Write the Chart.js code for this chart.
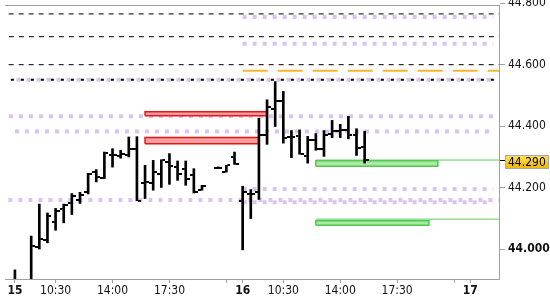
<!DOCTYPE html>
<html>
<head>
<meta charset="utf-8">
<script src="https://cdn.jsdelivr.net/npm/chart.js@4.4.1/dist/chart.umd.min.js"></script>
<style>
  html, body { margin: 0; padding: 0; background: #fff; }
</style>
</head>
<body>
<canvas id="chart" width="550" height="300"></canvas>
<script>
// 30 minute bars, x = hours since 08:00 on the 15th (14h session per day)
const barHours = [0, 1, 1.5, 2, 2.5, 3, 3.5, 4, 4.5, 5, 5.5, 6, 6.5, 7, 7.5, 8, 8.5, 9, 9.5, 10, 10.5, 11, 11.5, 12.5, 13, 13.5,
  14, 14.5, 15, 15.5, 16, 16.5, 17, 17.5, 18, 18.5, 19, 19.5, 20, 20.5, 21, 21.5]
const opens = [43.880, 43.890, 44.008, 44.030, 44.090, 44.130, 44.149, 44.160, 44.186, 44.250, 44.233, 44.307, 44.302, 44.305, 44.327,
  44.214, 44.216, 44.244, 44.284, 44.267, 44.262, 44.240, 44.194, 44.265, 44.251, 44.300,
  44.156, 44.181, 44.186, 44.370, 44.456, 44.483, 44.365, 44.367, 44.302, 44.356, 44.327, 44.376, 44.386, 44.389, 44.370, 44.334]
const highs = [43.933, 44.043, 44.147, 44.118, 44.133, 44.147, 44.181, 44.185, 44.247, 44.259, 44.316, 44.327, 44.322, 44.365, 44.366,
  44.273, 44.289, 44.291, 44.311, 44.287, 44.287, 44.262, 44.208, 44.268, 44.273, 44.316,
  44.205, 44.194, 44.426, 44.486, 44.545, 44.513, 44.386, 44.388, 44.367, 44.376, 44.386, 44.419, 44.406, 44.432, 44.392, 44.384]
const lows = [43.870, 43.880, 44.001, 44.021, 44.062, 44.086, 44.113, 44.149, 44.180, 44.219, 44.230, 44.267, 44.296, 44.300, 44.158,
  44.165, 44.192, 44.201, 44.211, 44.224, 44.208, 44.183, 44.192, 44.262, 44.251, 44.276,
  43.998, 44.100, 44.162, 44.341, 44.399, 44.345, 44.298, 44.309, 44.280, 44.322, 44.302, 44.363, 44.363, 44.359, 44.305, 44.280]
const closes = [43.890, 44.011, 44.033, 44.108, 44.125, 44.143, 44.174, 44.178, 44.246, 44.234, 44.312, 44.307, 44.311, 44.327, 44.158,
  44.220, 44.251, 44.289, 44.270, 44.246, 44.230, 44.186, 44.205, 44.265, 44.273, 44.276,
  44.186, 44.180, 44.372, 44.464, 44.483, 44.363, 44.365, 44.311, 44.356, 44.327, 44.373, 44.384, 44.389, 44.370, 44.330, 44.290]

// axis ticks
const xTickHours = [0, 2.5, 6, 9.5, 13, 14, 16.5, 20, 23.5, 27, 28]
const xTickLabels = ["15", "10:30", "14:00", "17:30", "", "16", "10:30", "14:00", "17:30", "", "17"]
const dayTicks = [0, 14, 28]
const yTickValues = [44.0, 44.2, 44.29, 44.4, 44.6, 44.8]
const lastPrice = 44.29

// level lines: value, from hour, to hour
const dashedLevels = [44.765, 44.691, 44.600]
const dashedFrom = [-1, -0.37, -1]
const dottedLevels = [44.551]
const dottedFrom = [-0.25]
const lilacLevels = [44.755, 44.668, 44.551, 44.432, 44.383, 44.196, 44.160, 44.153]
const lilacFrom = [14, 14, 0.1, -0.37, 0, 14, -0.4, 14]
const lilacTo = [29.4, 29.4, 29.4, 29.4, 29.4, 29.4, 31, 29.4]
const orangeLevels = [44.58]
const orangeFrom = [14]
const greenLevels = [44.29, 44.098]
const greenFrom = [18.5, 18.5]

// zones: from hour, to hour, low, high
const redZones = [[8.0, 15.5, 44.434, 44.447], [8.0, 15.0, 44.343, 44.363]]
const greenZones = [[18.5, 26.0, 44.270, 44.288], [18.5, 25.45, 44.078, 44.093]]

const X_MIN = -0.61
const X_MAX = 29.76
const FONT = "'DejaVu Sans Condensed', 'DejaVu Sans', sans-serif"

function tickImage(side) {
  const c = document.createElement("canvas")
  c.width = 8
  c.height = 2
  const g = c.getContext("2d")
  g.fillStyle = "#000"
  g.fillRect(side === "left" ? 0 : 5, 0, 3, 2)
  return c
}

function levelLine(value, from, to, style) {
  return Object.assign({
    type: "line",
    data: [{ x: from, y: value }, { x: to, y: value }],
    pointRadius: 0,
    fill: false,
    borderCapStyle: "butt"
  }, style)
}

function zone(z, fillColor, lineColor) {
  const [a, b, lo, hi] = z
  return {
    type: "line",
    data: [{ x: a, y: lo }, { x: b, y: lo }, { x: b, y: hi }, { x: a, y: hi }, { x: a, y: lo }],
    pointRadius: 0,
    fill: "shape",
    backgroundColor: fillColor,
    borderColor: lineColor,
    borderWidth: 1.5,
    order: 5
  }
}

const datasets = []

// OHLC: high-low stems, open ticks, close ticks
datasets.push({
  type: "bar",
  data: barHours.map((h, i) => ({ x: h, y: [lows[i], highs[i]] })),
  backgroundColor: "#000",
  borderWidth: 0,
  barThickness: 2,
  grouped: false,
  order: 1
})
datasets.push({
  type: "scatter",
  data: barHours.map((h, i) => ({ x: h, y: opens[i] })),
  pointStyle: tickImage("left"),
  pointRadius: 3,
  order: 0
})
datasets.push({
  type: "scatter",
  data: barHours.map((h, i) => ({ x: h, y: closes[i] })),
  pointStyle: tickImage("right"),
  pointRadius: 3,
  order: 0
})

lilacLevels.forEach((v, i) => datasets.push(levelLine(v, lilacFrom[i], lilacTo[i], {
  borderColor: "#dcc2f0", borderWidth: 4, borderDash: [4, 6], order: 9
})))
dashedLevels.forEach((v, i) => datasets.push(levelLine(v, dashedFrom[i], 31, {
  borderColor: "#000", borderWidth: 1, borderDash: [5, 5], order: 8
})))
dottedLevels.forEach((v, i) => datasets.push(levelLine(v, dottedFrom[i], 31, {
  borderColor: "#000", borderWidth: 2, borderDash: [3, 7], order: 8
})))
orangeLevels.forEach((v, i) => datasets.push(levelLine(v, orangeFrom[i], 31, {
  borderColor: "#f8b630", borderWidth: 2, borderDash: [25, 10], order: 8
})))
redZones.forEach(z => datasets.push(zone(z, "#f5a0a0", "#ee1111")))
greenZones.forEach(z => datasets.push(zone(z, "#aaeaa4", "#4cc84c")))
greenLevels.forEach((v, i) => datasets.push(levelLine(v, greenFrom[i], 31, {
  borderColor: "#5ccc5c", borderWidth: 1, order: 4
})))

// last price tag on the right axis
const priceTag = {
  id: "priceTag",
  afterDraw(chart) {
    const { ctx } = chart
    const y = chart.scales.y
    const py = Math.round(y.getPixelForValue(lastPrice))
    const x0 = y.left + 6.5
    const top = py - 4.5
    const w = 43
    const h = 13
    const grad = ctx.createLinearGradient(0, top, 0, top + h)
    grad.addColorStop(0, "#ffe35c")
    grad.addColorStop(1, "#f1b500")
    ctx.save()
    ctx.fillStyle = grad
    ctx.fillRect(x0, top, w, h)
    ctx.strokeStyle = "#a8a8a8"
    ctx.lineWidth = 1
    ctx.strokeRect(x0, top, w, h)
    ctx.fillStyle = "#000"
    ctx.font = "12px " + FONT
    ctx.textBaseline = "middle"
    ctx.textAlign = "left"
    ctx.fillText(lastPrice.toFixed(3), x0 + 2.5, top + h / 2 + 0.5)
    ctx.restore()
  }
}

new Chart(document.getElementById("chart"), {
  type: "bar",
  data: { datasets },
  options: {
    responsive: false,
    animation: false,
    events: [],
    layout: { padding: 0 },
    plugins: { legend: { display: false }, tooltip: { enabled: false } },
    scales: {
      x: {
        type: "linear",
        min: X_MIN,
        max: X_MAX,
        bounds: "data",
        offset: false,
        afterBuildTicks: s => { s.ticks = xTickHours.map(v => ({ value: v })) },
        afterFit: s => { s.height = 21; s.paddingLeft = 0; s.paddingRight = 0 },
        grid: { drawOnChartArea: false, offset: false, tickLength: 4, color: "#a0a0a0" },
        border: { color: "#a0a0a0" },
        ticks: {
          autoSkip: false,
          maxRotation: 0,
          padding: 1,
          color: "#111",
          font: c => ({ family: FONT, size: 12, weight: c.tick && dayTicks.includes(c.tick.value) ? "bold" : "normal" }),
          callback: (v, i) => xTickLabels[i]
        }
      },
      x2: {
        type: "linear",
        position: "top",
        min: X_MIN,
        max: X_MAX,
        offset: false,
        afterFit: s => { s.height = 4; s.paddingLeft = 0; s.paddingRight = 0 },
        grid: { display: false },
        ticks: { display: false },
        border: { color: "#a0a0a0" }
      },
      y: {
        type: "linear",
        position: "right",
        min: 43.9034,
        max: 44.794,
        bounds: "data",
        afterBuildTicks: s => { s.ticks = yTickValues.map(v => ({ value: v })) },
        afterFit: s => { s.width = 51; s.paddingTop = 0; s.paddingBottom = 0 },
        grid: {
          drawOnChartArea: false,
          tickLength: 6,
          color: c => (c.tick && c.tick.value === lastPrice ? "#000" : "#a0a0a0")
        },
        border: { color: "#a0a0a0" },
        ticks: {
          autoSkip: false,
          padding: 3,
          color: "#111",
          font: c => ({ family: FONT, size: 12, weight: c.tick && c.tick.value === 44 ? "bold" : "normal" }),
          callback: v => (v === lastPrice ? "" : v.toFixed(3))
        }
      }
    }
  },
  plugins: [priceTag]
})
</script>
</body>
</html>
